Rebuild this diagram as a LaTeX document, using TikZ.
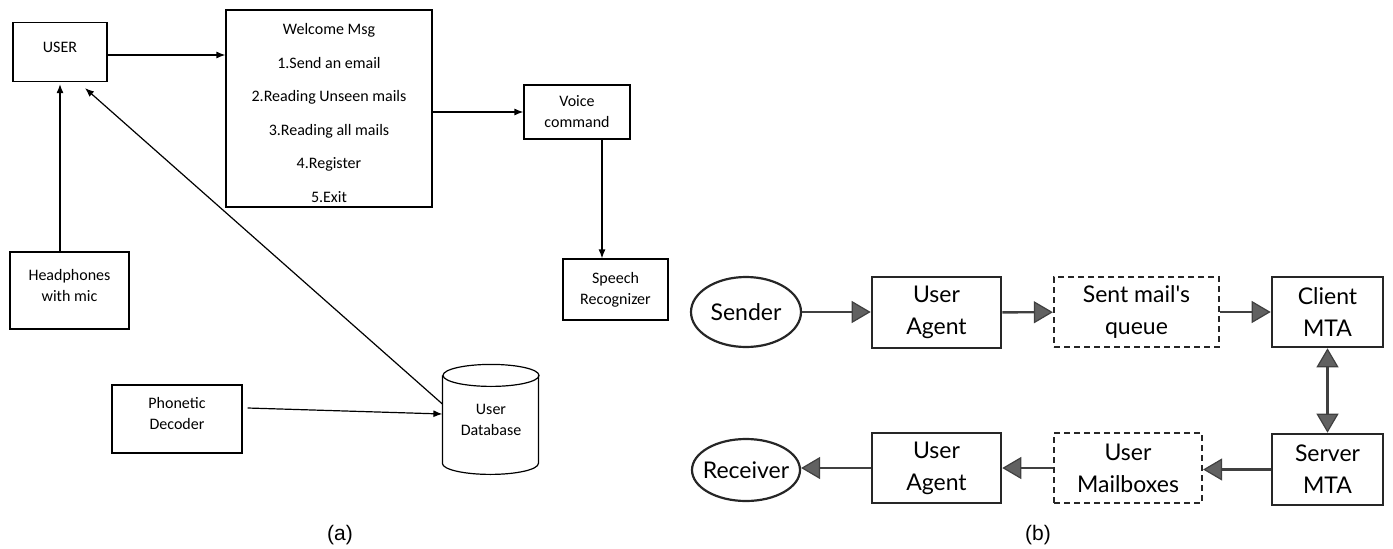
\documentclass[tikz,border=0pt]{standalone}
\usepackage{fontspec}
\setmainfont{Carlito}
\newfontfamily\latofont{Lato}
\newfontfamily\capfont{Liberation Sans}
\usetikzlibrary{arrows.meta,shapes.geometric}

\begin{document}
\begin{tikzpicture}[x=1pt,y=-1pt,
   box/.style={draw,line width=1.2pt,align=center,inner sep=0pt,
     font=\fontsize{16}{21}\selectfont},
   arr/.style={line width=1.2pt,-{Latex[length=9pt,width=7pt]}},
   mbox/.style={draw=black!85,line width=2.6pt,align=center,inner sep=0pt,
     font=\latofont\fontsize{23}{32}\selectfont},
   qbox/.style={mbox,dash pattern=on 6pt off 4pt,line width=2.2pt},
   party/.style={mbox,ellipse,line width=2.2pt,inner xsep=-6pt},
   gtip/.tip={Triangle[length=19pt,width=22pt,line width=1.2pt,fill=black!62]},
   flow/.style={draw=black!75,line width=2.4pt,-gtip},
   dflow/.style={draw=black!75,line width=2.4pt,gtip-gtip},
   subcap/.style={font=\capfont\fontsize{21}{24}\selectfont}]
  \useasboundingbox (0,0) rectangle (1393,549);
  % (a) voice mail menu
  \node[box,minimum width=94pt,minimum height=59pt,text depth=10pt] (user)
    at (60,52) {USER};
  \node[box,minimum width=206pt,minimum height=197pt,
    font=\fontsize{16}{33.5}\selectfont] (welcome) at (329,108.5)
    {\rule{0pt}{20pt}Welcome Msg\\1.Send an email\\2.Reading Unseen mails\\
     3.Reading all mails\\4.Register\\5.Exit};
  \node[box,minimum width=106pt,minimum height=54pt] (voice) at (577,112)
    {Voice\\command};
  \node[box,minimum width=105pt,minimum height=61pt] (speech) at (615.5,289.5)
    {Speech\\Recognizer};
  \node[box,minimum width=119pt,minimum height=77pt,text depth=10pt] (head)
    at (69.5,290.5) {Headphones\\with mic};
  \node[box,minimum width=130pt,minimum height=68pt,text depth=12pt] (phon)
    at (177,419) {Phonetic\\Decoder};
  \node[box,draw=none,minimum width=96pt,minimum height=110pt] (db) at (491,420)
    {User\\Database};
  \draw[line width=1.2pt] (db.north west) ++(0,11) -- ++(0,88)
    arc[start angle=180,end angle=360,x radius=48pt,y radius=11pt] -- ++(0,-88);
  \draw[line width=1.2pt] (db.north) ++(0,11) ellipse[x radius=48pt,y radius=11pt];
  \draw[arr] ([yshift=-3pt]user.east) -- ([yshift=-3pt]welcome.west |- user.east);
  \draw[arr] (welcome.east |- voice.west) -- (voice.west);
  \draw[arr] ([xshift=25pt]voice.south) -- ([xshift=25pt]voice.south |- speech.north);
  \draw[arr,shorten >=2pt] (head.north -| user) -- (user.south);
  \draw[arr] ([yshift=16pt]db.west) -- ([xshift=25pt,yshift=-6pt]user.south);
  \draw[arr] ([xshift=5pt,yshift=11pt]phon.east) -- ([yshift=6pt]db.west);
  \node[subcap] (capa) at (340,535) {(a)};
  % (b) mail transfer
  \node[party,minimum width=110pt,minimum height=70pt] (sender) at (746,312) {Sender};
  \node[mbox,minimum width=129pt,minimum height=71pt] (ua1) at (936.5,312.5) {User\\Agent};
  \node[qbox,minimum width=165pt,minimum height=70pt] (sent) at (1136.5,312)
    {Sent mail\textquotesingle s\\queue};
  \node[mbox,minimum width=111pt,minimum height=70pt] (client) at (1327.5,312) {Client\\MTA};
  \node[mbox,minimum width=111pt,minimum height=71pt] (server) at (1327.5,469.5) {Server\\MTA};
  \node[qbox,minimum width=148pt,minimum height=70pt] (inbox) at (1128,468) {User\\Mailboxes};
  \node[mbox,minimum width=129pt,minimum height=70pt] (ua2) at (936.5,468) {User\\Agent};
  \node[party,minimum width=108pt,minimum height=62pt,inner xsep=-11pt] (receiver)
    at (746,470) {Receiver};
  \draw[flow] (sender.east) -- (ua1.west |- sender.east);
  \draw[flow] (ua1) -- (sent);
  \draw[flow] (sent) -- (client);
  \draw[dflow] (client) -- (server);
  \draw[flow] (server.west) -- (inbox.east |- server.west);
  \draw[flow] (inbox) -- (ua2);
  \draw[flow] (ua2.west) -- (receiver.east |- ua2.west);
  \node[subcap] (capb) at (1038,535) {(b)};
\end{tikzpicture}
\end{document}
